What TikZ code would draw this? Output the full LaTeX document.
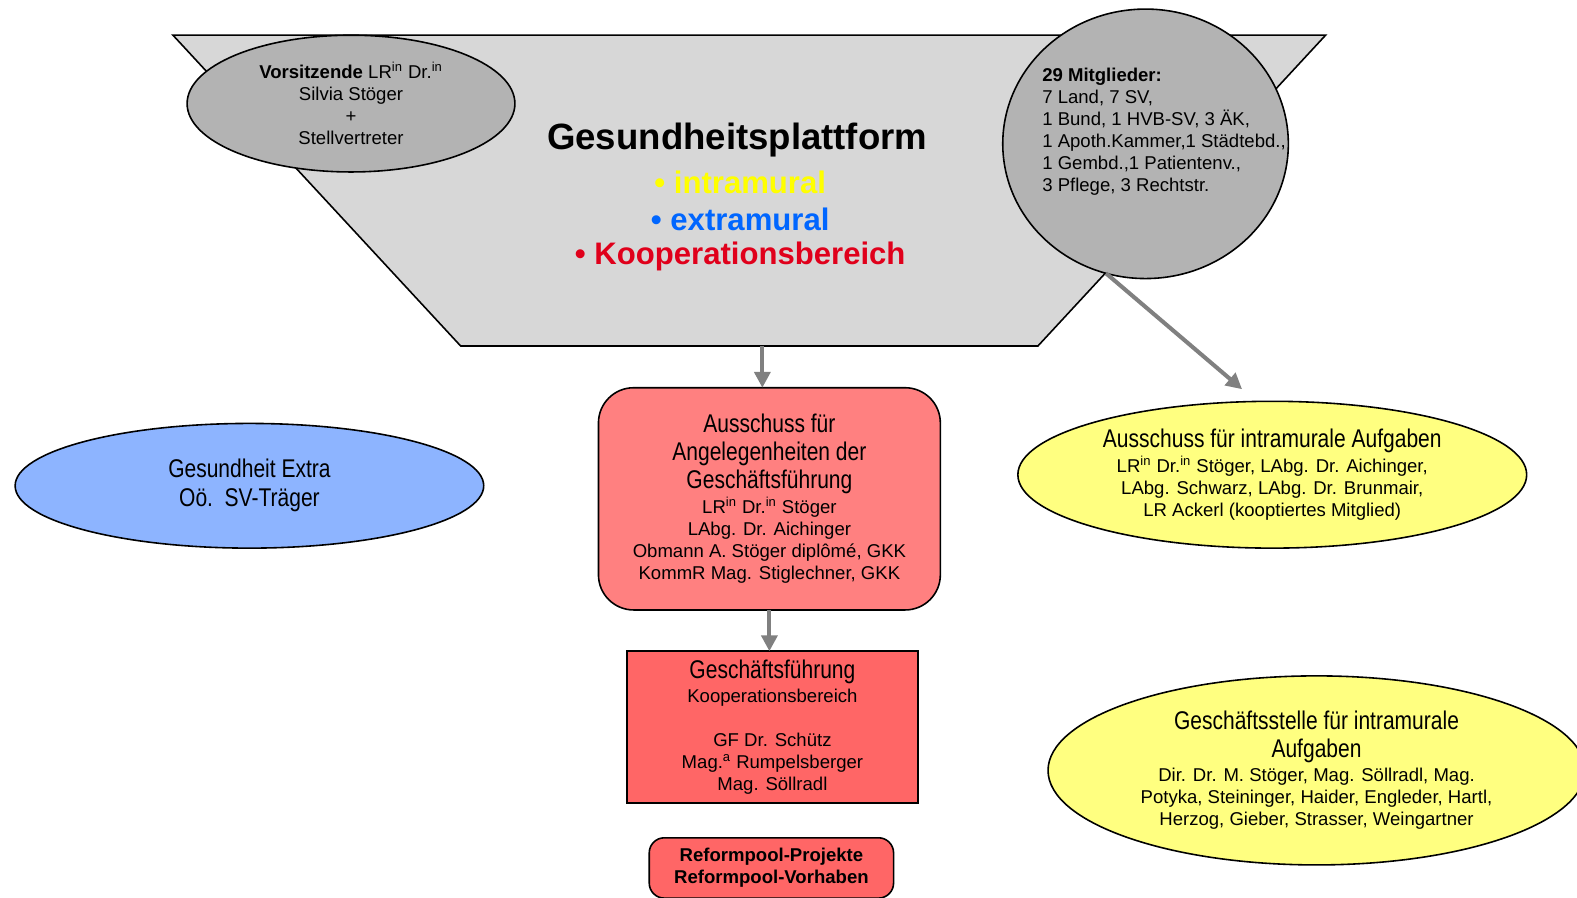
\documentclass[tikz,border=0pt]{standalone}
\usepackage{fontspec}
\setmainfont{Liberation Sans}
\newfontfamily\narrowfont[FakeStretch=0.82]{Liberation Sans}
\usetikzlibrary{shapes.geometric,arrows.meta}
\definecolor{platgrau}{HTML}{D7D7D7}
\definecolor{ovalgrau}{HTML}{B3B3B3}
\definecolor{pfeilgrau}{HTML}{808080}
\definecolor{hellrot}{HTML}{FF8080}
\definecolor{kastenrot}{HTML}{FF6666}
\definecolor{hellgelb}{HTML}{FFFF80}
\definecolor{hellblau}{HTML}{8DB4FF}
\definecolor{textgelb}{HTML}{FFFF00}
\definecolor{textblau}{HTML}{0066FF}
\definecolor{textrot}{HTML}{E0001B}
\newcommand{\klein}{\fontsize{10.5}{12.5}\selectfont\lineskiplimit=-20pt}
\newcommand{\schmal}{\narrowfont\fontsize{14.5}{16}\selectfont}
\newcommand{\hoch}[1]{\textsuperscript{#1}}

\tikzset{
  oval/.style={ellipse, draw, line width=0.9pt, inner sep=0pt, outer sep=0pt, align=center, font=\klein},
  kasten/.style={draw, line width=0.9pt, inner sep=0pt, outer sep=0pt, align=center, font=\klein},
  pfeil/.style={draw=pfeilgrau, line width=2.3pt, -{Triangle[length=9pt,width=9pt]}},
  punkt/.style={font=\fontsize{17.6}{20}\selectfont\bfseries}
}

\begin{document}
\begin{tikzpicture}[x=0.02cm,y=-0.02cm]
\useasboundingbox (0,0) rectangle (1568,892);
\draw [fill=platgrau, line width=0.9pt] (172,35) -- (1318,35) -- (1032,344) -- (458,344) -- cycle;
\coordinate (plattform-s) at (758,344);
\node [oval, fill=ovalgrau, minimum width=6.52cm, minimum height=2.72cm] (vorsitz) at (349,103) {{\bfseries Vorsitzende} LR\hoch{in} Dr.\hoch{in}\\ Silvia Stöger\\ +\\ Stellvertreter};
\node [oval, fill=ovalgrau, minimum width=5.68cm, minimum height=5.36cm] (mitglieder) at (1139,143) {};
\node [anchor=west, align=left, inner sep=0pt, font=\klein] (mitglieder-text) at (1036,131) {{\bfseries 29 Mitglieder:}\\ 7 Land, 7 SV,\\ 1 Bund, 1 HVB-SV, 3 ÄK,\\ 1 Apoth.Kammer,1 Städtebd.,\\ 1 Gembd.,1 Patientenv.,\\ 3 Pflege, 3 Rechtstr.};
\node [font=\fontsize{20.7}{24}\selectfont\bfseries] (titel) at (733,139) {Gesundheitsplattform};
\node [punkt, text=textgelb] (intra) at (736,181) {\textbullet\ intramural};
\node [punkt, text=textblau] (extra) at (736,218) {\textbullet\ extramural};
\node [punkt, text=textrot] (koop) at (736,255) {\textbullet\ Kooperationsbereich};
\node [oval, fill=hellblau, minimum width=9.32cm, minimum height=2.48cm] (extra-oval) at (248,483) {{\schmal Gesundheit Extra}\\[3.9pt] {\schmal Oö.\ \ SV-Träger}};
\node [kasten, fill=hellrot, rounded corners=0.7cm, minimum width=6.8cm, minimum height=4.42cm] (ausschuss) at (765,496) {{\schmal Ausschuss für}\\[3.4pt] {\schmal Angelegenheiten der}\\[3.4pt] {\schmal Geschäftsführung}\\[1.7pt] LR\hoch{in} Dr.\hoch{in} Stöger\\ LAbg. Dr. Aichinger\\ Obmann A. Stöger diplômé, GKK\\ KommR Mag. Stiglechner, GKK};
\node [kasten, fill=kastenrot, minimum width=5.78cm, minimum height=3.02cm] (gf) at (768,723) {{\schmal Geschäftsführung}\\[1.1pt] Kooperationsbereich\\ \mbox{}\\ GF Dr. Schütz\\ Mag.\hoch{a} Rumpelsberger\\ Mag. Söllradl};
\node [kasten, fill=kastenrot, rounded corners=0.3cm, minimum width=4.86cm, minimum height=1.2cm, font=\klein\bfseries] (reform) at (767,863) {Reformpool-Projekte\\ Reformpool-Vorhaben};
\node [oval, fill=hellgelb, minimum width=10.12cm, minimum height=2.92cm] (intra-oval) at (1265,472) {{\schmal Ausschuss für intramurale Aufgaben}\\[1.7pt] LR\hoch{in} Dr.\hoch{in} Stöger, LAbg. Dr. Aichinger,\\ LAbg. Schwarz, LAbg. Dr. Brunmair,\\ LR Ackerl (kooptiertes Mitglied)};
\node [oval, fill=hellgelb, minimum width=10.68cm, minimum height=3.76cm] (stelle) at (1309,766) {{\schmal Geschäftsstelle für intramurale}\\[3.4pt] {\schmal Aufgaben}\\[1.1pt] Dir. Dr. M. Stöger, Mag. Söllradl, Mag.\\ Potyka, Steininger, Haider, Engleder, Hartl,\\ Herzog, Gieber, Strasser, Weingartner};
\coordinate (intra-pfeil) at (1235,387);
\draw [pfeil] (plattform-s) -- (plattform-s |- ausschuss.north);
\draw [pfeil] (ausschuss.south) -- (ausschuss.south |- gf.north);
\draw [pfeil] (mitglieder.253) -- (intra-pfeil);
\end{tikzpicture}
\end{document}
